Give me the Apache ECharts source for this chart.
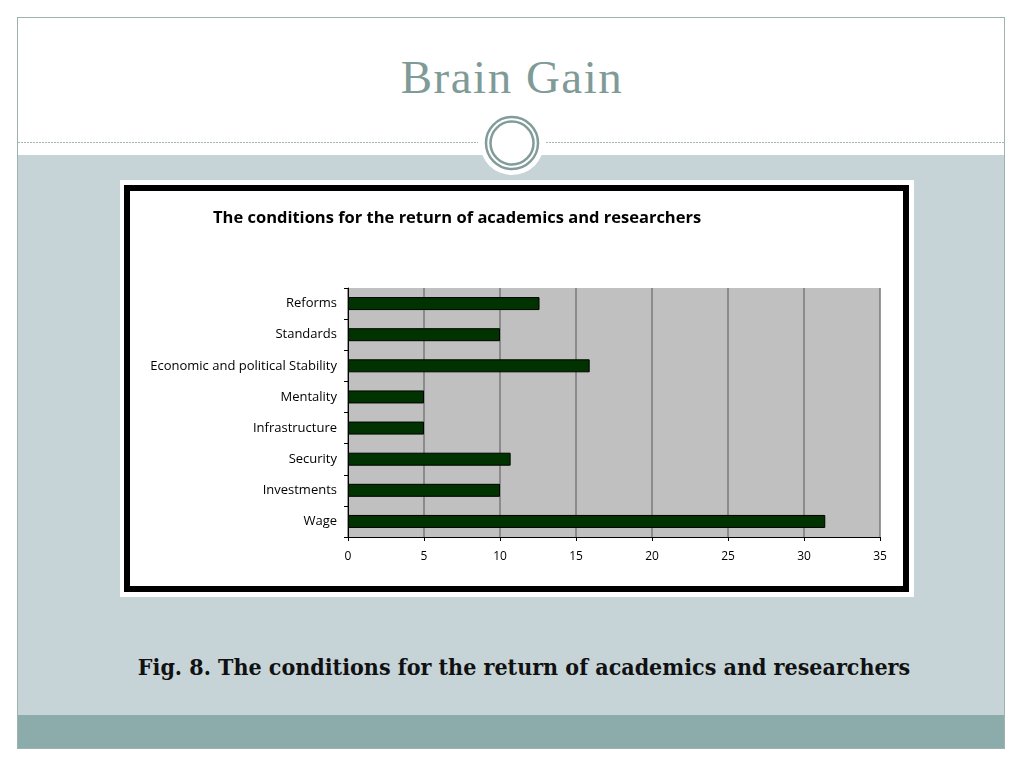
<!DOCTYPE html>
<html>
<head>
<meta charset="utf-8">
<script src="https://cdn.jsdelivr.net/npm/echarts@6/dist/echarts.min.js"></script>
<style>
  html, body { margin: 0; padding: 0; background: #fff; }
  #slide { position: relative; width: 1024px; height: 768px; overflow: hidden; }
  .frame { position: absolute; left: 17px; top: 17px; width: 988px; height: 732px; border: 1px solid #9fb2b2; box-sizing: border-box; }
  .band { position: absolute; left: 18px; width: 987px; }
  #title { position: absolute; left: 0; width: 1024px; top: 50px; text-align: center; letter-spacing: 1.5px;
           font-family: "Liberation Serif", serif; font-size: 47px; color: #7f9b98; }
  #caption { position: absolute; left: 0; width: 1048px; top: 653px; text-align: center;
             font-family: "DejaVu Serif Condensed", "DejaVu Serif", serif; font-weight: bold; font-size: 23px; color: #111; }
  #chartBox { position: absolute; left: 120px; top: 180px; width: 794px; height: 417px; background: #fff; }
  #chartInner { position: absolute; left: 4px; top: 5px; width: 785px; height: 407px;
                border: 6px solid #000; box-sizing: border-box; }
  #chart { width: 773px; height: 395px; }
</style>
</head>
<body>
<div id="slide">
  <div class="band" style="top:155px;height:560px;background:#c6d4d8;"></div>
  <div class="band" style="top:715px;height:34px;background:#8cabab;"></div>
  <svg style="position:absolute;left:0;top:0" width="1024" height="200">
    <line x1="18" y1="142.5" x2="478" y2="142.5" stroke="#a6b4b4" stroke-width="1" stroke-dasharray="2,1"/>
    <line x1="546" y1="142.5" x2="1005" y2="142.5" stroke="#a6b4b4" stroke-width="1" stroke-dasharray="2,1"/>
    <circle cx="512" cy="143" r="32" fill="#fff"/>
    <circle cx="512" cy="143" r="26" fill="none" stroke="#829c9a" stroke-width="2.5"/>
    <circle cx="512" cy="143" r="21.5" fill="none" stroke="#829c9a" stroke-width="2.5"/>
  </svg>
  <div class="frame"></div>
  <div id="title">Brain Gain</div>
  <div id="chartBox"><div id="chartInner"><div id="chart"></div></div></div>
  <div id="caption">Fig. 8. The conditions for the return of academics and researchers</div>
</div>
<script>
// chart data
var chartTitle = 'The conditions for the return of academics and researchers';
var categories = ['Reforms', 'Standards', 'Economic and political Stability', 'Mentality',
                  'Infrastructure', 'Security', 'Investments', 'Wage'];
var values = [12.6, 10, 15.9, 5, 5, 10.7, 10, 31.4];
var xTicks = [0, 5, 10, 15, 20, 25, 30, 35];

var FONT = 'Open Sans, Liberation Sans, Arial';

var chart = echarts.init(document.getElementById('chart'), null, { renderer: 'canvas' });

var option = {
  animation: false,
  backgroundColor: '#fff',
  title: {
    text: chartTitle,
    left: 78,
    top: 14,
    textStyle: { fontFamily: FONT, fontSize: 16.5, fontWeight: 'bold', color: '#000' }
  },
  grid: {
    left: 218,
    right: 23,
    top: 97,
    bottom: 49,
    show: true,
    backgroundColor: '#c0c0c0',
    borderWidth: 0
  },
  xAxis: {
    type: 'value',
    min: xTicks[0],
    max: xTicks[xTicks.length - 1],
    interval: 5,
    axisLine: { show: true, lineStyle: { color: '#000', width: 1 } },
    axisTick: { show: true, length: 4, inside: false, lineStyle: { color: '#000' } },
    axisLabel: { color: '#000', fontSize: 12, fontFamily: FONT, margin: 14 },
    splitLine: { show: true, lineStyle: { color: '#7a7a7a', width: 1.5 } }
  },
  yAxis: {
    type: 'category',
    data: categories,
    inverse: true,
    axisLine: { show: true, lineStyle: { color: '#000', width: 1 } },
    axisTick: { show: true, length: 4, lineStyle: { color: '#000' } },
    axisLabel: { color: '#000', fontSize: 13, fontFamily: FONT, margin: 11 },
    splitLine: { show: false }
  },
  series: [{
    type: 'bar',
    data: values,
    barWidth: 13,
    itemStyle: { color: '#003300', borderColor: '#000', borderWidth: 1 },
    silent: true
  }]
};

chart.setOption(option);
</script>
</body>
</html>
